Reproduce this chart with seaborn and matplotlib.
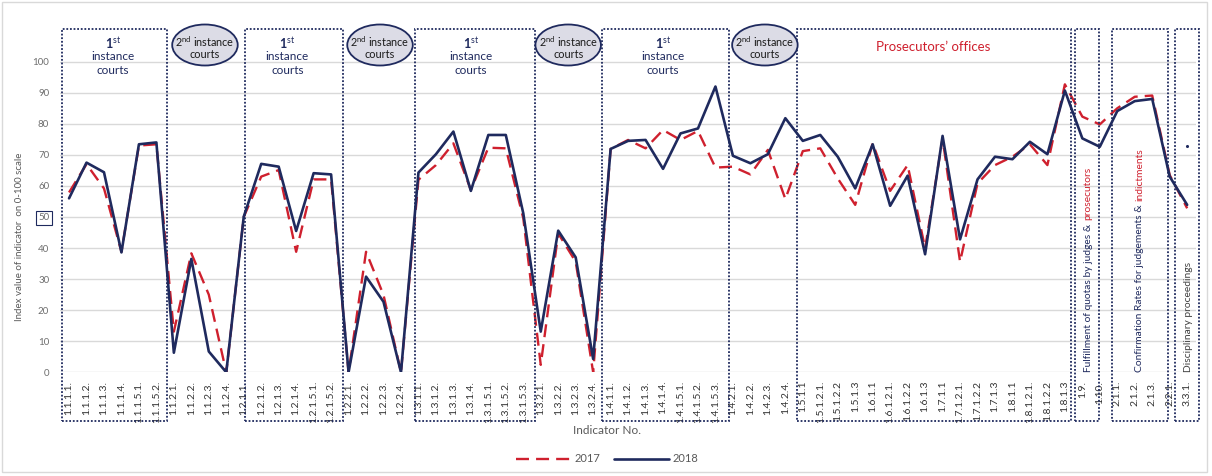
import matplotlib
matplotlib.use("Agg")
import matplotlib.pyplot as plt
import matplotlib.transforms as mtransforms
from matplotlib.patches import Rectangle, Ellipse
from matplotlib.lines import Line2D
import seaborn as sns
import pandas as pd

# ---------------- data ----------------
indicators = ["1.1.1.1.", "1.1.1.2.", "1.1.1.3.", "1.1.1.4.", "1.1.1.5.1.", "1.1.1.5.2.",
              "1.1.2.1.", "1.1.2.2.", "1.1.2.3.", "1.1.2.4.",
              "1.2.1.1.", "1.2.1.2.", "1.2.1.3.", "1.2.1.4.", "1.2.1.5.1.", "1.2.1.5.2.",
              "1.2.2.1.", "1.2.2.2.", "1.2.2.3.", "1.2.2.4.",
              "1.3.1.1.", "1.3.1.2.", "1.3.1.3.", "1.3.1.4.", "1.3.1.5.1.", "1.3.1.5.2.", "1.3.1.5.3.",
              "1.3.2.1.", "1.3.2.2.", "1.3.2.3.", "1.3.2.4.",
              "1.4.1.1.", "1.4.1.2.", "1.4.1.3.", "1.4.1.4.", "1.4.1.5.1.", "1.4.1.5.2.", "1.4.1.5.3.",
              "1.4.2.1.", "1.4.2.2.", "1.4.2.3.", "1.4.2.4.",
              "1.5.1.1", "1.5.1.2.1.", "1.5.1.2.2", "1.5.1.3", "1.6.1.1", "1.6.1.2.1.", "1.6.1.2.2",
              "1.6.1.3", "1.7.1.1", "1.7.1.2.1.", "1.7.1.2.2", "1.7.1.3", "1.8.1.1", "1.8.1.2.1.",
              "1.8.1.2.2", "1.8.1.3",
              "1.9.", "1.10.", "2.1.1.", "2.1.2.", "2.1.3.", "2.2.1.", "3.3.1."]

values_2017 = [57.9, 67.0, 59.2, 38.8, 73.0, 73.4,
               13.1, 38.3, 25.0, 0.0,
               50.0, 63.0, 65.1, 38.8, 62.1, 62.1,
               0.0, 38.8, 24.9, 0.0,
               62.0, 66.7, 73.7, 58.7, 72.3, 72.1, 49.6,
               2.4, 44.7, 35.6, 0.0,
               71.9, 74.8, 72.1, 78.0, 74.8, 77.7, 65.9,
               66.2, 63.7, 71.6, 55.8,
               71.2, 72.1, 62.4, 53.9, 73.7, 58.4, 66.7, 39.9, 75.3, 35.6, 60.8, 66.7,
               69.4, 73.4, 66.7, 92.7,
               82.3, 79.8, 85.0, 88.7, 89.1, 63.5, 52.8]

values_2018 = [56.0, 67.5, 64.4, 38.6, 73.4, 74.0,
               6.3, 36.5, 6.7, 0.0,
               50.1, 67.1, 66.2, 45.5, 64.1, 63.7,
               0.0, 30.8, 22.7, 0.0,
               64.3, 70.2, 77.5, 58.4, 76.4, 76.4, 51.2,
               13.1, 45.6, 37.0, 4.3,
               71.9, 74.5, 74.8, 65.5, 76.9, 78.5, 92.0,
               69.7, 67.3, 70.2, 81.8,
               74.5, 76.4, 69.4, 59.2, 73.4, 53.6, 63.3, 38.0, 76.1, 42.8, 62.1, 69.4,
               68.6, 74.2, 70.2, 90.7,
               75.3, 72.6, 84.1, 87.3, 88.0, 63.0, 53.9]

stray_point_label = "3.3.1."
stray_point_value = 73.0

years = ["2017", "2018"]
y_ticks = list(range(0, 101, 10))

# ---------------- style ----------------
NAVY = "#1f2a5e"
RED = "#cf202e"
GRAY_TXT = "#6e6e6e"
DASH = (5.5, 3)

sns.set_theme(style="white")
plt.rcParams['font.family'] = ['Lato', 'DejaVu Sans']
plt.rcParams['mathtext.fontset'] = 'custom'
plt.rcParams['mathtext.rm'] = 'Lato'

W, H = 1212, 476
fig = plt.figure(figsize=(W / 100, H / 100), dpi=100)
ax = fig.add_axes([60.3 / W, (H - 372.3) / H, (1195.9 - 60.3) / W, 341.7 / H])

n = len(indicators)
df = pd.DataFrame({
    "pos": list(range(n)) * 2,
    "Value": values_2017 + values_2018,
    "Year": ["2017"] * n + ["2018"] * n,
})

sns.lineplot(data=df, x="pos", y="Value", hue="Year", style="Year",
             palette={"2017": RED, "2018": NAVY},
             dashes={"2017": DASH, "2018": ""},
             linewidth=1.7, sort=False, legend=False, ax=ax)
for ln in ax.lines:
    if ln.get_color() == NAVY:
        ln.set_zorder(3)
        ln.set_linewidth(1.9)

ax.scatter([indicators.index(stray_point_label)], [stray_point_value], s=1.5, color=NAVY, zorder=4)

ax.set_xlim(-0.5, n - 0.5)
ax.set_ylim(0, 110)
ax.set_yticks(y_ticks)
ax.set_yticklabels([str(v) for v in y_ticks], fontsize=7, color=GRAY_TXT)
ax.set_xticks(range(n))
ax.set_xticklabels(indicators, rotation=90, fontsize=7.5, color="#333333", va="top")
ax.tick_params(axis="both", length=0)
ax.tick_params(axis="y", pad=8)
ax.tick_params(axis="x", pad=6)
ax.yaxis.grid(True, color="#d9d9d9", lw=1.0)
ax.xaxis.grid(False)
for s in ax.spines.values():
    s.set_visible(False)
ax.set_xlabel("")
ax.set_ylabel("")

for lab in ax.get_yticklabels():
    if lab.get_text() == "50":
        lab.set_bbox(dict(boxstyle="square,pad=0.25", fc="white", ec=NAVY, lw=0.8))

# ---------------- decorations ----------------
def fy(ypx):
    return 1 - ypx / H

bt = mtransforms.blended_transform_factory(ax.transData, fig.transFigure)

box_spans = [(-0.4, 5.6), (10.07, 15.68), (19.8, 26.67), (30.5, 37.8),
             (41.67, 57.36), (57.58, 58.95), (59.7, 62.9), (63.3, 64.7)]
for x0, x1 in box_spans:
    r = Rectangle((x0, fy(421)), x1 - x0, fy(29) - fy(421), transform=bt,
                  fill=False, ec=NAVY, lw=1.3, ls=(0, (1, 1)), clip_on=False, zorder=5)
    fig.add_artist(r)

first_centers = [2.5, 12.5, 23.0, 34.0]
for c in first_centers:
    fig.text(c, fy(43), r"1$^{\rm st}$", transform=bt, ha="center", va="center",
             fontsize=9, color=NAVY, fontweight="bold")
    fig.text(c, fy(57), "instance", transform=bt, ha="center", va="center", fontsize=8.5, color=NAVY)
    fig.text(c, fy(71), "courts", transform=bt, ha="center", va="center", fontsize=8.5, color=NAVY)

second_centers = [7.78, 17.8, 28.57, 39.83]
for c in second_centers:
    e = Ellipse((c, fy(45)), 3.75, 41 / H, transform=bt, fc="#dcdce6", ec=NAVY, lw=1.3, zorder=5)
    fig.add_artist(e)
    fig.text(c, fy(42), r"2$^{\rm nd}$ instance", transform=bt, ha="center", va="center",
             fontsize=7.8, color="#1a1a1a", zorder=6)
    fig.text(c, fy(55), "courts", transform=bt, ha="center", va="center",
             fontsize=7.8, color="#1a1a1a", zorder=6)

fig.text(49.46, fy(47), "Prosecutors\u2019 offices", transform=bt, ha="center", va="center",
         fontsize=9.5, color=RED)

def two_tone(xc, first, second, c1, c2):
    t = fig.text(xc, fy(372), first, transform=bt, rotation=90, ha="center", va="bottom",
                 fontsize=7.4, color=c1, zorder=6)
    if second:
        fig.add_artist(plt.Annotation(second, xy=(0.5, 1.0), xycoords=t, xytext=(0, 2.5),
                                      textcoords="offset points", rotation=90, ha="center",
                                      va="bottom", fontsize=7.4, color=c2, zorder=6))

two_tone(58.33, "Fulfillment of quotas by judges &", "prosecutors", NAVY, RED)
two_tone(61.3, "Confirmation Rates for judgements &", "indictments", NAVY, RED)
two_tone(64.05, "Disciplinary proceedings", None, "#404040", None)

fig.text(20 / W, fy(237), "Index value of indicator  on 0-100 scale", rotation=90,
         ha="center", va="center", fontsize=7, color="#595959")
fig.text(607 / W, fy(430), "Indicator No.", ha="center", va="center", fontsize=8.5, color="#595959")

handles = [Line2D([], [], color=RED, lw=1.7, dashes=DASH),
           Line2D([], [], color=NAVY, lw=1.9)]
fig.legend(handles, years, loc="center", bbox_to_anchor=(607 / W, fy(459)), ncol=2,
           frameon=False, fontsize=8, handlelength=5, columnspacing=1.2, handletextpad=0.3,
           labelcolor="#595959")

fig.add_artist(Rectangle((2 / W, fy(472)), 1205 / W, (470) / H, transform=fig.transFigure,
                         fill=False, ec="#d9d9d9", lw=1.0))

fig.savefig("out.png", dpi=100)
